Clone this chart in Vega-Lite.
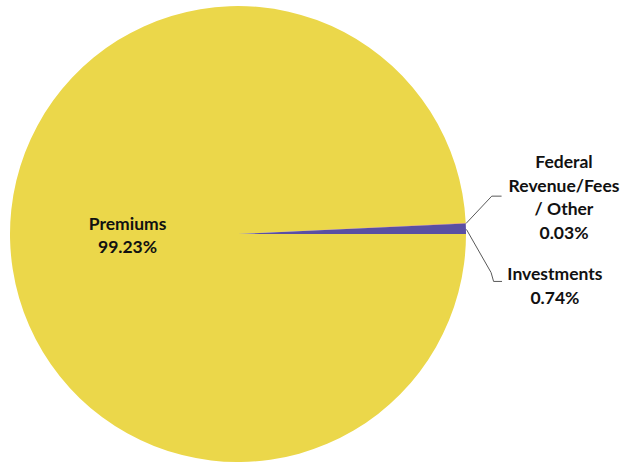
{
  "$schema": "https://vega.github.io/schema/vega-lite/v6.json",
  "width": 456,
  "height": 456,
  "autosize": {"type": "none"},
  "padding": {"left": 10, "top": 6, "right": 157, "bottom": 0},
  "background": "white",
  "config": {"view": {"stroke": null}},
  "datasets": {
    "slices": [
      {"category": "Premiums", "value": 99.23, "ord": 1, "label": "Premiums\n99.23%"},
      {"category": "Federal Revenue/Fees / Other", "value": 0.03, "ord": 2, "label": "Federal\nRevenue/Fees\n/ Other\n0.03%"},
      {"category": "Investments", "value": 0.74, "ord": 3, "label": "Investments\n0.74%"}
    ],
    "leaders": [
      {"line": "Federal", "seq": 1, "x": 1.0, "y": 0.046},
      {"line": "Federal", "seq": 2, "x": 1.113, "y": 0.166},
      {"line": "Federal", "seq": 3, "x": 1.156, "y": 0.166},
      {"line": "Investments", "seq": 1, "x": 1.002, "y": 0.02},
      {"line": "Investments", "seq": 2, "x": 1.11, "y": -0.169},
      {"line": "Investments", "seq": 3, "x": 1.121, "y": -0.208},
      {"line": "Investments", "seq": 4, "x": 1.158, "y": -0.208}
    ]
  },
  "layer": [
    {
      "data": {"name": "slices"},
      "mark": {"type": "arc", "outerRadius": 228, "stroke": null},
      "encoding": {
        "theta": {"field": "value", "type": "quantitative", "stack": true, "scale": {"range": [1.5707963, 7.8539816]}},
        "order": {"field": "ord", "type": "quantitative"},
        "color": {
          "field": "category", "type": "nominal",
          "scale": {"domain": ["Premiums", "Federal Revenue/Fees / Other", "Investments"], "range": ["#EBD74A", "#E4733A", "#5A4FA3"]},
          "legend": null
        }
      }
    },
    {
      "data": {"name": "slices"},
      "transform": [{"filter": "datum.category === 'Premiums'"}],
      "mark": {"type": "text", "radius": 110.5, "dy": -12, "font": "Lato", "fontWeight": "bold", "fontSize": 17.5, "lineHeight": 23.5, "lineBreak": "\n", "color": "#111111", "align": "center", "baseline": "middle"},
      "encoding": {
        "theta": {"field": "value", "type": "quantitative", "stack": true},
        "order": {"field": "ord", "type": "quantitative"},
        "text": {"field": "label", "type": "nominal"}
      }
    },
    {
      "data": {"name": "slices"},
      "transform": [{"filter": "datum.category === 'Federal Revenue/Fees / Other'"}],
      "mark": {"type": "text", "radius": 326, "dy": -71, "font": "Lato", "fontWeight": "bold", "fontSize": 17.5, "lineHeight": 23.5, "lineBreak": "\n", "color": "#111111", "align": "center", "baseline": "middle"},
      "encoding": {
        "theta": {"field": "value", "type": "quantitative", "stack": true},
        "order": {"field": "ord", "type": "quantitative"},
        "text": {"field": "label", "type": "nominal"}
      }
    },
    {
      "data": {"name": "slices"},
      "transform": [{"filter": "datum.category === 'Investments'"}],
      "mark": {"type": "text", "radius": 317, "dy": 34, "font": "Lato", "fontWeight": "bold", "fontSize": 17.5, "lineHeight": 23.5, "lineBreak": "\n", "color": "#111111", "align": "center", "baseline": "middle"},
      "encoding": {
        "theta": {"field": "value", "type": "quantitative", "stack": true},
        "order": {"field": "ord", "type": "quantitative"},
        "text": {"field": "label", "type": "nominal"}
      }
    },
    {
      "data": {"name": "leaders"},
      "mark": {"type": "line", "color": "#595959", "strokeWidth": 1},
      "encoding": {
        "x": {"field": "x", "type": "quantitative", "scale": {"domain": [-1, 1], "nice": false, "zero": false}, "axis": null},
        "y": {"field": "y", "type": "quantitative", "scale": {"domain": [-1, 1], "nice": false, "zero": false}, "axis": null},
        "detail": {"field": "line", "type": "nominal"},
        "order": {"field": "seq", "type": "quantitative"}
      }
    }
  ]
}
